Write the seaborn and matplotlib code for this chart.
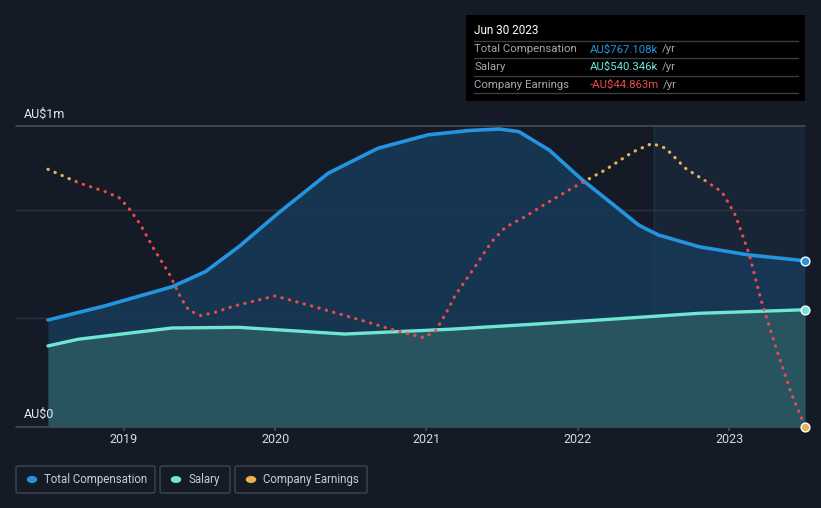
import numpy as np
import pandas as pd
import matplotlib
matplotlib.use('Agg')
import matplotlib.pyplot as plt
from matplotlib.patches import Rectangle, FancyBboxPatch
import seaborn as sns

# --- data ---
comp_years = [2018.5, 2018.88, 2019.32, 2019.54, 2019.76, 2020.02, 2020.35, 2020.68,
              2021.01, 2021.28, 2021.48, 2021.61, 2021.81, 2022.03, 2022.25, 2022.4,
              2022.53, 2022.8, 2023.13, 2023.5]
total_comp_k = [493, 559, 647, 717, 832, 987, 1172, 1288, 1350, 1370, 1377, 1365, 1280,
                1141, 1018, 933, 887, 832, 794, 767.108]

salary_years = [2018.5, 2018.7, 2019.32, 2019.76, 2020.46, 2021.15, 2021.74, 2022.14,
                2022.8, 2023.5]
salary_k = [373, 404, 456, 459, 428, 450, 475, 493, 524, 540.346]

earn_years = [2018.5, 2018.7, 2018.88, 2018.97, 2019.03, 2019.11, 2019.2, 2019.3, 2019.38,
              2019.43, 2019.51, 2019.6, 2019.73, 2020.0, 2020.24, 2020.57, 2020.79,
              2020.98, 2021.06, 2021.13, 2021.19, 2021.32, 2021.43, 2021.52, 2021.65,
              2021.81, 2021.96, 2022.18, 2022.36, 2022.49, 2022.58, 2022.71, 2022.86,
              2022.95, 2022.99, 2023.04, 2023.13, 2023.21, 2023.3, 2023.41, 2023.5]
earnings_m = [2.14, -0.31, -1.96, -3.06, -4.82, -7.93, -12.45, -16.9, -21.48, -23.62,
              -24.59, -24.04, -22.83, -21.0, -22.83, -25.45, -27.28, -28.62, -27.41,
              -24.11, -20.87, -15.69, -11.11, -8.48, -6.54, -3.79, -1.34, 2.01, 5.26,
              6.87, 5.99, 2.33, -0.31, -1.96, -3.79, -6.23, -13.24, -21.79, -29.72,
              -38.87, -44.863]
tick_years = [2019, 2020, 2021, 2022, 2023]

comp_df = pd.DataFrame({'year': comp_years, 'total': total_comp_k})
sal_df = pd.DataFrame({'year': salary_years, 'salary': salary_k})
earn_df = pd.DataFrame({'year': earn_years, 'earnings': earnings_m})

BG = '#151b26'
BLUE = '#2394df'
TEAL = '#6ee6d3'
RED = '#e84b4b'
YELLOW = '#e9b450'
GRID = '#2c333f'

sns.set_theme(style='dark')
plt.rcParams['font.family'] = ['Roboto', 'DejaVu Sans']

fig = plt.figure(figsize=(8.21, 5.08), dpi=100, facecolor=BG)
ax = fig.add_axes([16 / 821, 1 - 426.5 / 508, 789 / 821, 300.5 / 508])
ax.set_facecolor(BG)

x0, x1 = 2018.5 - 32 / 151.5, 2023.5
ax.set_xlim(x0, x1)
ax.set_ylim(0, 1391)

# last-year highlight
ax.axvspan(2022.5, x1, color='#1d4266', alpha=0.28, lw=0, zorder=0.5)
ax.axvline(2022.5, color='#1c3348', lw=1, zorder=0.6)

# fills
ax.fill_between(comp_df['year'], comp_df['total'], 0, color='#173a59', alpha=0.85,
                lw=0, zorder=1)
ax.fill_between(sal_df['year'], sal_df['salary'], 0, color='#2a5762', alpha=0.92,
                lw=0, zorder=1.1)

# grid
for g in [500, 1000]:
    ax.axhline(g, color=GRID, lw=1, zorder=0.7)
ax.axhline(1391, color='#474d57', lw=1.2, zorder=3, clip_on=False)
ax.axhline(0, color='#474d57', lw=1.2, zorder=3, clip_on=False)

sns.lineplot(data=comp_df, x='year', y='total', ax=ax, color=BLUE, lw=2.6, zorder=4)
sns.lineplot(data=sal_df, x='year', y='salary', ax=ax, color=TEAL, lw=2.4, zorder=4)
ax.scatter([comp_years[-1]], [total_comp_k[-1]], s=40, color=BLUE, edgecolor='white',
           linewidth=1, zorder=6, clip_on=False)
ax.scatter([salary_years[-1]], [salary_k[-1]], s=40, color=TEAL, edgecolor='white',
           linewidth=1, zorder=6, clip_on=False)

for s in ax.spines.values():
    s.set_visible(False)
ax.set_yticks([])
ax.set_xticks(tick_years)
ax.set_xticklabels([str(t) for t in tick_years], color='#d6d9de', fontsize=9)
ax.tick_params(axis='x', length=3, color='#474d57', pad=1.5, direction='out', bottom=True)
ax.set_xlabel('')
ax.set_ylabel('')
ax.grid(False)

# earnings on its own hidden scale
ax2 = ax.twinx()
ax2.set_ylim(-44.863, 10.05)
ax2.set_xlim(x0, x1)
ax2.axis('off')
dot = (0, (0.1, 2.3))
for col, lo in [(RED, -100), (YELLOW, 0)]:
    ln = ax2.plot(earn_df['year'], earn_df['earnings'], color=col, lw=2.3, ls=dot,
                  dash_capstyle='round', zorder=5)[0]
    ln.set_clip_path(Rectangle((2000, lo), 50, 100, transform=ax2.transData))
ax2.scatter([earn_years[-1]], [earnings_m[-1]], s=40, color=YELLOW, edgecolor='white',
            linewidth=1, zorder=6, clip_on=False)

# y labels
fig.text(24 / 821, 1 - 114 / 508, 'AU$1m', color='#e6e8eb', fontsize=9, va='center')
fig.text(24 / 821, 1 - 414 / 508, 'AU$0', color='#e6e8eb', fontsize=9, va='center')

# tooltip box
fig.patches.append(Rectangle((466 / 821, 1 - 101 / 508), 339 / 821, 86 / 508,
                             transform=fig.transFigure, facecolor='#000000',
                             edgecolor='none', zorder=10))
fig.text(474 / 821, 1 - 31 / 508, 'Jun 30 2023', color='white', fontsize=8.5,
         va='center', zorder=11)
for yy in [41, 58, 76, 93]:
    fig.lines.append(plt.Line2D([474 / 821, 798 / 821], [1 - yy / 508] * 2,
                                transform=fig.transFigure, color='#3a3d42', lw=1, zorder=11))
rows = [('Total Compensation', 'AU$767.108k', BLUE),
        ('Salary', 'AU$540.346k', TEAL),
        ('Company Earnings', '-AU$44.863m', RED)]
for i, (lab, val, c) in enumerate(rows):
    yy = 1 - (49.5 + i * 17.5) / 508
    fig.text(474 / 821, yy, lab, color='#a3a6ab', fontsize=8.2, va='center', zorder=12)
    t = fig.text(590 / 821, yy, val, color=c, fontsize=8.2, va='center', zorder=12)
    fig.canvas.draw()
    bb = t.get_window_extent()
    fig.text(bb.x1 / 821 + 4 / 821, yy, '/yr', color='#a3a6ab', fontsize=8.2,
             va='center', zorder=12)

# legend boxes
legend = [('Total Compensation', BLUE, 16, 155), ('Salary', TEAL, 160, 230),
          ('Company Earnings', YELLOW, 235, 367)]
for lab, c, xa, xb in legend:
    fig.patches.append(FancyBboxPatch((xa / 821, 1 - 493 / 508), (xb - xa) / 821, 27 / 508,
                                      boxstyle='round,pad=0,rounding_size=0.003',
                                      transform=fig.transFigure, facecolor='none',
                                      edgecolor='#40464f', lw=1))
    fig.patches.append(plt.Circle(((xa + 16) / 821, 1 - 479.5 / 508), 0.0055,
                                  transform=fig.transFigure, color=c))
    fig.text((xa + 28) / 821, 1 - 479.5 / 508, lab, color='#c9ccd1', fontsize=8.3,
             va='center')

fig.savefig('out.png', dpi=100, facecolor=BG)
